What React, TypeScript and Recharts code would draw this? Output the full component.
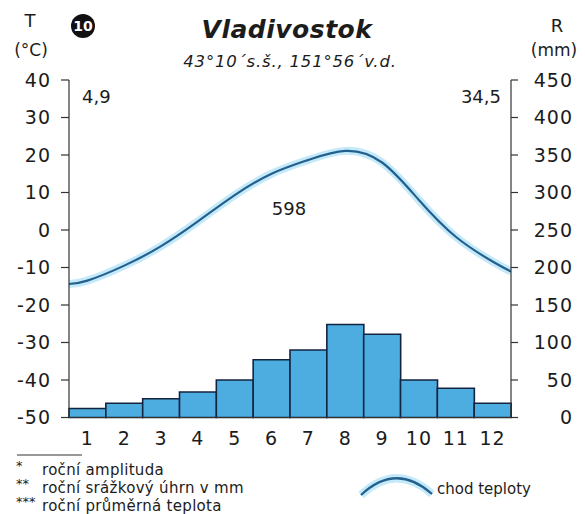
import {
  ComposedChart,
  Bar,
  Line,
  XAxis,
  YAxis,
} from "recharts";

const months = [1, 2, 3, 4, 5, 6, 7, 8, 9, 10, 11, 12];
// monthly precipitation in mm
const precipitation = [12, 19, 25, 34, 50, 77, 90, 124, 111, 50, 39, 19];
// monthly mean temperature in C
const temperature = [-13.5, -9.5, -4.3, 2.3, 9.3, 15.0, 18.7, 21.1, 18.0, 8.0, -1.8, -8.4];
// where the curve meets the left / right border of the plot
const curveEnds = [-14.4, -11.1];
const tempTicks = [-50, -40, -30, -20, -10, 0, 10, 20, 30, 40];
const rainTicks = [0, 50, 100, 150, 200, 250, 300, 350, 400, 450];

const barData = months.map((m, i) => ({ month: m, rain: precipitation[i] }));
const curveData = [
  { x: 0.5, t: curveEnds[0] },
  ...months.map((m, i) => ({ x: m, t: temperature[i] })),
  { x: 12.5, t: curveEnds[1] },
];

const FONT = "'DejaVu Sans', Arial, sans-serif";
const INK = "#1c1c1c";

const RightTick = (props: any) => {
  const { y, payload } = props;
  return (
    <text x={573} y={y} dy="0.355em" textAnchor="end" fontSize={19} fontFamily={FONT} fill={INK} letterSpacing={1}>
      {payload.value}
    </text>
  );
};

export default function App() {
  return (
    <div style={{ position: "absolute", left: 0, top: 0, width: 585, height: 514, background: "#fff" }}>
      <ComposedChart
        width={585}
        height={514}
        data={barData}
        margin={{ top: 80, right: 0, bottom: 66.5, left: 0 }}
        barCategoryGap={0}
      >
        <XAxis
          xAxisId="cat"
          dataKey="month"
          height={30}
          tickLine={false}
          tickSize={0}
          tickMargin={14}
          axisLine={{ stroke: "#333", strokeWidth: 1.2 }}
          tick={{ fontSize: 19, fill: INK, fontFamily: FONT, letterSpacing: 1 }}
          interval={0}
        />
        <XAxis xAxisId="num" type="number" dataKey="x" domain={[0.5, 12.5]} hide allowDataOverflow />
        <YAxis
          yAxisId="t"
          orientation="left"
          width={69}
          domain={[-50, 40]}
          ticks={tempTicks}
          interval={0}
          tickSize={8}
          tickMargin={10}
          axisLine={{ stroke: "#333", strokeWidth: 1.2 }}
          tickLine={{ stroke: "#333", strokeWidth: 1.2 }}
          tick={{ fontSize: 19, fill: INK, fontFamily: FONT, letterSpacing: 1 }}
        />
        <YAxis
          yAxisId="mm"
          orientation="right"
          width={74}
          domain={[0, 450]}
          ticks={rainTicks}
          interval={0}
          tickSize={7}
          axisLine={{ stroke: "#333", strokeWidth: 1.2 }}
          tickLine={{ stroke: "#333", strokeWidth: 1.2 }}
          tick={RightTick}
        />
        <Bar
          xAxisId="cat"
          yAxisId="mm"
          dataKey="rain"
          fill="#4dace0"
          stroke="#13243f"
          strokeWidth={1.6}
          isAnimationActive={false}
        />
        <Line
          xAxisId="num"
          yAxisId="t"
          data={curveData}
          dataKey="t"
          type="natural"
          stroke="#c4eafa"
          strokeWidth={8}
          dot={false}
          activeDot={false}
          isAnimationActive={false}
        />
        <Line
          xAxisId="num"
          yAxisId="t"
          data={curveData}
          dataKey="t"
          type="natural"
          stroke="#24608e"
          strokeWidth={2.2}
          dot={false}
          activeDot={false}
          isAnimationActive={false}
        />
      </ComposedChart>

      <svg
        width={585}
        height={514}
        style={{ position: "absolute", left: 0, top: 0, pointerEvents: "none" }}
        fontFamily={FONT}
        fill={INK}
      >
        <text x={30} y={27} fontSize={18} textAnchor="middle">T</text>
        <text x={31} y={56} fontSize={17} textAnchor="middle">(°C)</text>
        <circle cx={83} cy={26} r={12} fill="#111" />
        <text x={83} y={31} fontSize={14} fontWeight="bold" fill="#fff" textAnchor="middle">10</text>

        <text x={287} y={38} fontSize={25} fontWeight="bold" fontStyle="italic" letterSpacing={0.5} textAnchor="middle">
          Vladivostok
        </text>
        <text x={290} y={67} fontSize={16.5} fontStyle="italic" letterSpacing={0.8} textAnchor="middle">
          43°10´s.š., 151°56´v.d.
        </text>

        <text x={557} y={32} fontSize={18} textAnchor="middle">R</text>
        <text x={554} y={56} fontSize={17} textAnchor="middle">(mm)</text>

        <text x={82} y={103} fontSize={18}>4,9</text>
        <text x={501} y={103} fontSize={18} textAnchor="end">34,5</text>
        <text x={289} y={215} fontSize={18} textAnchor="middle">598</text>

        <line x1={17} y1={455} x2={82} y2={455} stroke="#333" strokeWidth={1} />
        <text x={16} y={470} fontSize={13}>*</text>
        <text x={42} y={475} fontSize={15} letterSpacing={0.3}>roční amplituda</text>
        <text x={16} y={488} fontSize={13}>**</text>
        <text x={42} y={493} fontSize={15} letterSpacing={0.3}>roční srážkový úhrn v mm</text>
        <text x={16} y={506} fontSize={13}>***</text>
        <text x={42} y={511} fontSize={15} letterSpacing={0.3}>roční průměrná teplota</text>

        <path d="M361 495 Q396 462 432 494" fill="none" stroke="#c4eafa" strokeWidth={8} />
        <path d="M361 495 Q396 462 432 494" fill="none" stroke="#24608e" strokeWidth={2.2} />
        <text x={437} y={494} fontSize={15}>chod teploty</text>
      </svg>
    </div>
  );
}
